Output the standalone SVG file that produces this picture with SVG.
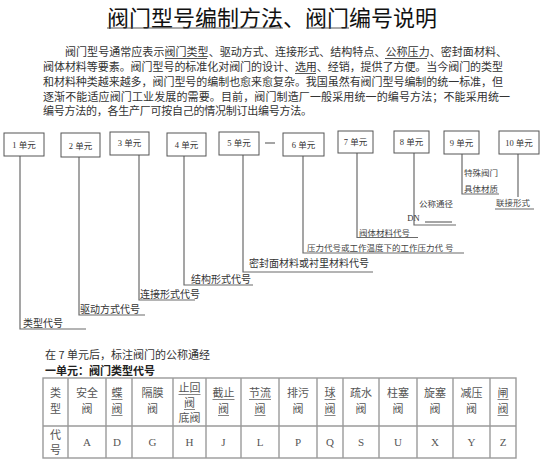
<svg xmlns="http://www.w3.org/2000/svg" width="554" height="467" viewBox="0 0 554 467">
<style>
.t{font-family:"Noto Sans CJK SC","Noto Sans",sans-serif;}
.title{font-size:22px;fill:#111;}
.p{font-size:11px;fill:#333;}
.box{fill:#fff;stroke:#555;stroke-width:1;}
.bl{font-family:"Liberation Serif","Noto Sans CJK SC",serif;font-size:8.5px;fill:#333;text-anchor:middle;}
.ld{fill:none;stroke:#6a6a6a;stroke-width:1.2;}
.lb{font-size:10px;fill:#333;}
.ls{font-size:8.5px;fill:#444;}
.ul{stroke:#444;stroke-width:0.9;}
.tb{fill:none;stroke:#9a9a9a;stroke-width:1.4;}
.th{font-size:11px;fill:#555;text-anchor:middle;}
.tc{font-family:"Liberation Serif",serif;font-size:11px;fill:#555;text-anchor:middle;}
</style>
<rect width="554" height="467" fill="#fff"/>

<g id="title">
<text class="t title" x="107" y="25.5">阀门型号编制方法、阀门编号说明</text>
<line class="ul" x1="107" y1="28" x2="283" y2="28" stroke-width="1.2"/>
<line class="ul" x1="306" y1="28" x2="349" y2="28" stroke-width="1.2"/>
</g>

<g id="paragraph">
<text class="t p" x="65" y="56" textLength="442" lengthAdjust="spacing">阀门型号通常应表示阀门类型、驱动方式、连接形式、结构特点、公称压力、密封面材料、</text>
<text class="t p" x="43" y="71" textLength="460" lengthAdjust="spacing">阀体材料等要素。阀门型号的标准化对阀门的设计、选用、经销，提供了方便。当今阀门的类型</text>
<text class="t p" x="43" y="86" textLength="460" lengthAdjust="spacing">和材料种类越来越多，阀门型号的编制也愈来愈复杂。我国虽然有阀门型号编制的统一标准，但</text>
<text class="t p" x="43" y="100.5" textLength="467" lengthAdjust="spacing">逐渐不能适应阀门工业发展的需要。目前，阀门制造厂一般采用统一的编号方法；不能采用统一</text>
<text class="t p" x="43" y="115" textLength="269" lengthAdjust="spacing">编号方法的，各生产厂可按自己的情况制订出编号方法。</text>
<line class="ul" x1="165" y1="58.5" x2="207" y2="58.5"/>
<line class="ul" x1="385" y1="58.5" x2="427" y2="58.5"/>
<line class="ul" x1="295" y1="73.5" x2="316" y2="73.5"/>
</g>

<g id="connectors">
<line class="ld" x1="265" y1="143" x2="275" y2="143"/>
<polyline class="ld" points="20,156 20,329 86,329"/>
<polyline class="ld" points="79,157 79,315 145,315"/>
<polyline class="ld" points="139,155 139,300 195,300"/>
<polyline class="ld" points="184,156 184,285 253,285"/>
<polyline class="ld" points="243,155 243,272 373,272"/>
<polyline class="ld" points="303,156 303,253 464,253"/>
<polyline class="ld" points="357,153 357,237.5 418,237.5"/>
<polyline class="ld" points="414,153 414,225 456,225"/>
<line class="ld" x1="425" y1="222" x2="452" y2="222"/>
<polyline class="ld" points="462,154 462,194 499,194"/>
<line class="ld" x1="518" y1="154" x2="518" y2="197"/>
<line class="ld" x1="495" y1="209" x2="534" y2="209"/>
</g>

<g id="unit1"><rect class="box" x="4" y="133" width="40" height="23"/><text class="bl" x="24" y="148">1 单元</text></g>
<g id="unit2"><rect class="box" x="61" y="133" width="39" height="24"/><text class="bl" x="80.5" y="148.5">2 单元</text></g>
<g id="unit3"><rect class="box" x="110" y="132" width="39" height="23"/><text class="bl" x="129.5" y="146">3 单元</text></g>
<g id="unit4"><rect class="box" x="167" y="133" width="39" height="23"/><text class="bl" x="186.5" y="147.5">4 单元</text></g>
<g id="unit5"><rect class="box" x="219" y="132" width="40" height="23"/><text class="bl" x="239" y="146">5 单元</text></g>
<g id="unit6"><rect class="box" x="283" y="133" width="41" height="23"/><text class="bl" x="303.5" y="148">6 单元</text></g>
<g id="unit7"><rect class="box" x="338" y="131" width="35" height="22"/><text class="bl" x="355.5" y="145">7 单元</text></g>
<g id="unit8"><rect class="box" x="394" y="131" width="35" height="22"/><text class="bl" x="411.5" y="145">8 单元</text></g>
<g id="unit9"><rect class="box" x="444" y="131" width="35" height="23"/><text class="bl" x="461.5" y="146">9 单元</text></g>
<g id="unit10"><rect class="box" x="499" y="131" width="40" height="23"/><text class="bl" x="519" y="146">10 单元</text></g>

<g id="labels">
<text class="t lb" x="23" y="327">类型代号</text>
<text class="t lb" x="80" y="313">驱动方式代号</text>
<text class="t lb" x="140" y="297.5">连接形式代号</text>
<text class="t lb" x="191" y="282.5">结构形式代号</text>
<text class="t lb" x="249" y="266.5">密封面材料或衬里材料代号</text>
<text class="t ls" x="307" y="251">压力代号或工作温度下的工作压力代 号</text>
<text class="t ls" x="359" y="236">阀体材料代号</text>
<text class="t ls" x="419" y="207">公称通径</text>
<text class="bl" x="413.5" y="221" font-size="8">DN</text>
<text class="t ls" x="464" y="176">特殊阀门</text>
<text class="t ls" x="464" y="192">具体材质</text>
<text class="t ls" x="496" y="206">联接形式</text>
</g>

<g id="notes">
<text class="t" x="45" y="359" font-size="11" fill="#333">在 7 单元后，标注阀门的公称通经</text>
<text class="t" x="45" y="375" font-size="11" font-weight="bold" fill="#222">一单元：阀门类型代号</text>
</g>

<g id="table">
<rect class="tb" x="43" y="378" width="473" height="80"/>
<line class="tb" x1="43" y1="426" x2="516" y2="426"/>
<line class="tb" x1="68" y1="378" x2="68" y2="458"/>
<line class="tb" x1="106" y1="378" x2="106" y2="458"/>
<line class="tb" x1="132" y1="378" x2="132" y2="458"/>
<line class="tb" x1="173" y1="378" x2="173" y2="458"/>
<line class="tb" x1="206" y1="378" x2="206" y2="458"/>
<line class="tb" x1="241" y1="378" x2="241" y2="458"/>
<line class="tb" x1="279" y1="378" x2="279" y2="458"/>
<line class="tb" x1="317" y1="378" x2="317" y2="458"/>
<line class="tb" x1="343" y1="378" x2="343" y2="458"/>
<line class="tb" x1="379" y1="378" x2="379" y2="458"/>
<line class="tb" x1="417" y1="378" x2="417" y2="458"/>
<line class="tb" x1="453" y1="378" x2="453" y2="458"/>
<line class="tb" x1="490" y1="378" x2="490" y2="458"/>

<text class="t th" x="55.5" y="397">类</text><text class="t th" x="55.5" y="413">型</text>
<text class="t th" x="87" y="397">安全</text><text class="t th" x="87" y="413">阀</text>
<text class="t th" x="117" y="397">蝶</text><text class="t th" x="117" y="413">阀</text>
<text class="t th" x="152.5" y="397">隔膜</text><text class="t th" x="152.5" y="413">阀</text>
<text class="t th" x="189.5" y="392">止回</text><text class="t th" x="189.5" y="407">阀</text><text class="t th" x="189.5" y="421.5">底阀</text>
<text class="t th" x="223.5" y="397">截止</text><text class="t th" x="223.5" y="413">阀</text>
<text class="t th" x="260" y="397">节流</text><text class="t th" x="260" y="413">阀</text>
<text class="t th" x="298" y="397">排污</text><text class="t th" x="298" y="413">阀</text>
<text class="t th" x="330" y="397">球</text><text class="t th" x="330" y="413">阀</text>
<text class="t th" x="361" y="397">疏水</text><text class="t th" x="361" y="413">阀</text>
<text class="t th" x="398" y="397">柱塞</text><text class="t th" x="398" y="413">阀</text>
<text class="t th" x="435" y="397">旋塞</text><text class="t th" x="435" y="413">阀</text>
<text class="t th" x="471.5" y="397">减压</text><text class="t th" x="471.5" y="413">阀</text>
<text class="t th" x="503" y="397">闸</text><text class="t th" x="503" y="413">阀</text>

<g stroke="#666" stroke-width="0.8">
<line x1="111.5" y1="399.5" x2="122.5" y2="399.5"/><line x1="111.5" y1="415.5" x2="122.5" y2="415.5"/>
<line x1="178.5" y1="394.5" x2="200.5" y2="394.5"/><line x1="184" y1="409.5" x2="195" y2="409.5"/>
<line x1="212.5" y1="399.5" x2="234.5" y2="399.5"/><line x1="218" y1="415.5" x2="229" y2="415.5"/>
<line x1="249" y1="399.5" x2="271" y2="399.5"/><line x1="254.5" y1="415.5" x2="265.5" y2="415.5"/>
<line x1="324.5" y1="399.5" x2="335.5" y2="399.5"/><line x1="324.5" y1="415.5" x2="335.5" y2="415.5"/>
<line x1="497.5" y1="399.5" x2="508.5" y2="399.5"/><line x1="497.5" y1="415.5" x2="508.5" y2="415.5"/>
</g>

<text class="t th" x="55.5" y="439">代</text><text class="t th" x="55.5" y="454">号</text>
<text class="tc" x="87" y="446">A</text>
<text class="tc" x="117" y="446">D</text>
<text class="tc" x="152.5" y="446">G</text>
<text class="tc" x="189.5" y="446">H</text>
<text class="tc" x="223.5" y="446">J</text>
<text class="tc" x="260" y="446">L</text>
<text class="tc" x="298" y="446">P</text>
<text class="tc" x="330" y="446">Q</text>
<text class="tc" x="361" y="446">S</text>
<text class="tc" x="398" y="446">U</text>
<text class="tc" x="435" y="446">X</text>
<text class="tc" x="471.5" y="446">Y</text>
<text class="tc" x="503" y="446">Z</text>
</g>
</svg>
